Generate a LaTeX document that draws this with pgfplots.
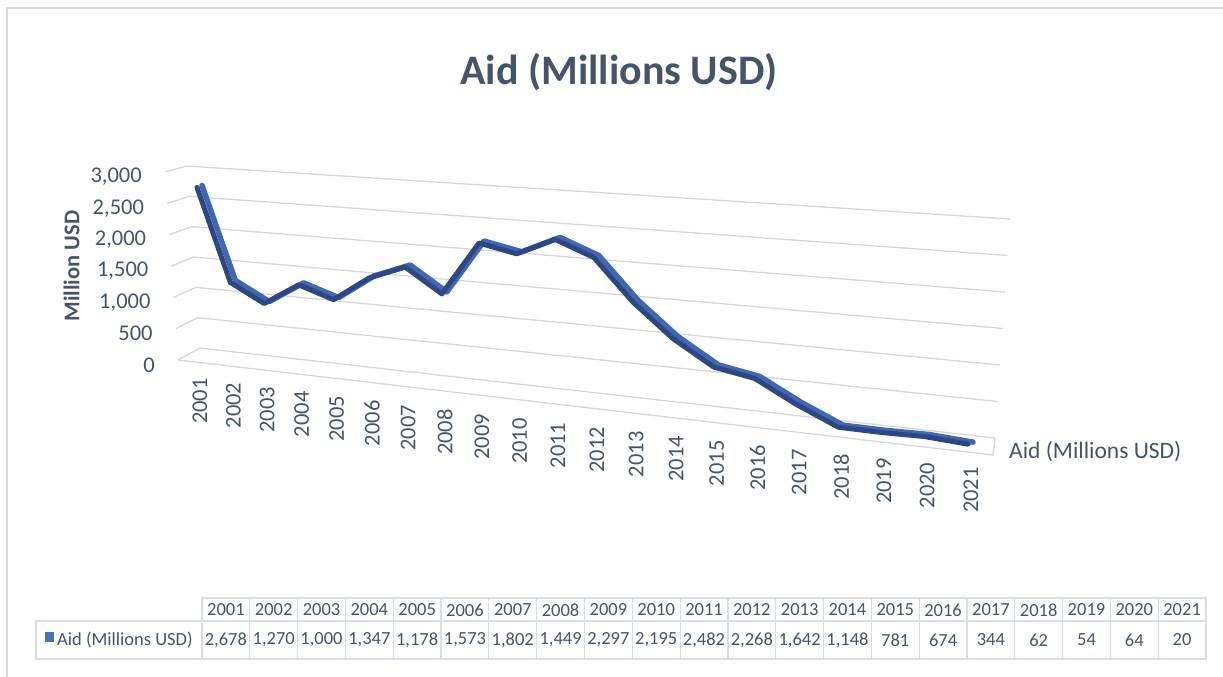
\documentclass[border=0pt]{standalone}
\usepackage{fontspec}
\setmainfont{Carlito}
\usepackage{pgfplots}
\pgfplotsset{compat=1.18}
\definecolor{txt}{HTML}{44546A}
\definecolor{gridc}{HTML}{D6D6D6}
\definecolor{tbl}{HTML}{D9DEE6}
\definecolor{ribA}{HTML}{2C4785}
\definecolor{ribB}{HTML}{4167AF}
\definecolor{keyc}{HTML}{4472C4}
\definecolor{frame}{HTML}{D9D9D9}
\begin{document}
\begin{tikzpicture}
\begin{scope}[x=1pt,y=-1pt]
\path[use as bounding box] (0,0) rectangle (1223,677);
\draw[frame, line width=1.2pt] (7,677) -- (7,8) -- (1223,8);
% title
\node[text=txt, font=\fontsize{42}{50}\bfseries\selectfont] at (619,72) {Aid (Millions USD)};
% y title
\node[text=txt, rotate=90, font=\fontsize{22.5}{27}\bfseries\selectfont] at (71.5,266) {Million USD};
% back wall gridlines + y tick labels
\foreach \k/\lab in {0/0,1/500,2/{1,000},3/{1,500},4/{2,000},5/{2,500},6/{3,000}}{
  \pgfmathsetmacro\Lx{178-2.17*\k}
  \pgfmathsetmacro\Ly{360-31.33*\k}
  \pgfmathsetmacro\Bx{\Lx+22}
  \pgfmathsetmacro\By{\Ly-12+\k}
  \pgfmathsetmacro\Rx{995+2.5*\k}
  \pgfmathsetmacro\Ry{438-36.5*\k}
  \draw[gridc, line width=1.3pt] (\Lx,\Ly) -- (\Bx,\By) -- (\Rx,\Ry);
  \node[anchor=east, text=txt, inner sep=0pt, font=\fontsize{22.5}{27}\selectfont] at (\Lx-23,\Ly+5) {\lab};
}
% floor front edge
\draw[gridc, line width=1.3pt] (178,360) -- (993,455) -- (995,438);
% year labels
\foreach \i in {0,...,20}{
  \pgfmathsetmacro\X{200+33.05*\i+0.275*\i*\i}
  \pgfmathsetmacro\Y{378+4.45*\i}
  \pgfmathtruncatemacro\yr{2001+\i}
  \node[rotate=90, anchor=east, inner sep=0pt, text=txt, font=\fontsize{22.5}{27}\selectfont] at (\X,\Y) {\yr};
}
% series label at right
\node[anchor=west, inner sep=0pt, text=txt, font=\fontsize{23.5}{28}\selectfont] at (1009,452) {Aid (Millions USD)};
% data table
\draw[tbl, line width=1.2pt] (202,598) rectangle (1206,659);
\draw[tbl, line width=1.2pt] (36,621) rectangle (1206,659);
\foreach \j in {1,...,20}{
  \draw[tbl, line width=1.2pt] ({202+47.81*\j},598) -- ({202+47.81*\j},659);
}
\fill[keyc] (45,632) rectangle (54,642);
\node[anchor=west, inner sep=0pt, text=txt, font=\fontsize{18.5}{22}\selectfont] at (57,640) {Aid (Millions USD)};
\foreach \v [count=\j from 0] in {{2,678},{1,270},{1,000},{1,347},{1,178},{1,573},{1,802},{1,449},{2,297},{2,195},{2,482},{2,268},{1,642},{1,148},781,674,344,62,54,64,20}{
  \pgfmathtruncatemacro\yr{2001+\j}
  \node[inner sep=0pt, text=txt, font=\fontsize{18.5}{22}\selectfont] at ({202+47.81*(\j+0.5)},610) {\yr};
  \node[inner sep=0pt, text=txt, font=\fontsize{18.5}{22}\selectfont] at ({202+47.81*(\j+0.5)},640) {\v};
}
\end{scope}
\begin{axis}[
  at={(197pt,-361pt)}, anchor=origin,
  x={(33.05pt,-3.62pt)}, y={(0pt,0.0648pt)},
  x coord trafo/.code={\pgfmathparse{#1+0.00832*#1*#1}},
  x coord inv trafo/.code={\pgfmathparse{(-1+sqrt(1+4*0.00832*#1))/(2*0.00832)}},
  xmin=0, xmax=20, ymin=0, ymax=3000,
  hide axis, clip=false,
]
\addplot[ribB, line width=5.5pt, line join=round, line cap=round, xshift=5pt, yshift=2pt] coordinates {
(0,2678)(1,1270)(2,1000)(3,1347)(4,1178)(5,1573)(6,1802)(7,1449)(8,2297)(9,2195)(10,2482)
(11,2268)(12,1642)(13,1148)(14,781)(15,674)(16,344)(17,62)(18,54)(19,64)(20,20)};
\addplot[ribA, line width=5pt, line join=round, line cap=round] coordinates {
(0,2678)(1,1270)(2,1000)(3,1347)(4,1178)(5,1573)(6,1802)(7,1449)(8,2297)(9,2195)(10,2482)
(11,2268)(12,1642)(13,1148)(14,781)(15,674)(16,344)(17,62)(18,54)(19,64)(20,20)};
\end{axis}
\end{tikzpicture}
\end{document}
